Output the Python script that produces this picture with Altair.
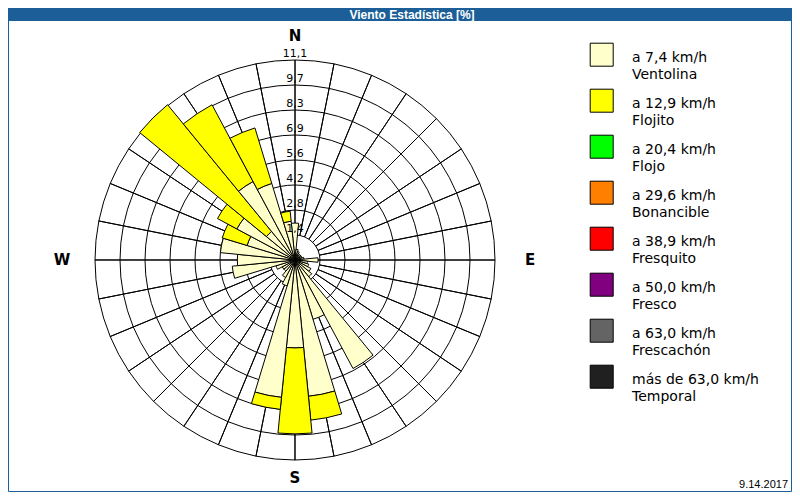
import altair as alt
import pandas as pd

# ---------------- data ----------------
step_deg = 11.25  # 32 directions
# percentage per direction (N, NbE, ... clockwise), two speed classes
ventolina = [2.05, 0.6, 0.5, 0.4, 0.4, 0.4, 0.4, 0.5,
             1.28, 0.7, 0.8, 1.0, 1.2, 6.83, 3.44, 7.6,
             4.88, 7.66, 1.5, 1.1, 0.8, 0.8, 1.1, 3.5,
             3.2, 4.16, 2.78, 3.66, 2.05, 4.94, 4.44, 2.16]
flojito = [0, 0, 0, 0, 0, 0, 0, 0,
           0, 0, 0, 0, 0, 0, 0, 1.33,
           4.77, 0.67, 0, 0, 0, 0, 0, 0,
           0, 0, 1.44, 1.22, 9.1, 4.83, 3.22, 0.56]

ring_max = 11.1
ring_labels = ["1,4", "2,8", "4,2", "5,6", "6,9", "8,3", "9,7", "11,1"]

speed_labels = ["a 7,4 km/h", "a 12,9 km/h", "a 20,4 km/h", "a 29,6 km/h",
                "a 38,9 km/h", "a 50,0 km/h", "a 63,0 km/h", "más de 63,0 km/h"]
class_names = ["Ventolina", "Flojito", "Flojo", "Bonancible",
               "Fresquito", "Fresco", "Frescachón", "Temporal"]
class_colors = ["#ffffcc", "#ffff00", "#00ff00", "#ff8000",
                "#ff0000", "#800080", "#646464", "#202020"]

compass_labels = ["N", "E", "S", "W"]
compass_angles = [0, 90, 180, 270]

title_text = "Viento Estadística [%]"
date_text = "9.14.2017"

# ---------------- layout ----------------
W, H = 784, 484
CX, CY = 287, 252
R = 200
BLUE = "#1c5f98"

theta_scale = alt.Scale(domain=[0, 360], range=[0, 6.283185307179586])
rad_scale = alt.Scale(type="linear", domain=[0, ring_max], range=[0, R])
fill_scale = alt.Scale(domain=class_names, range=class_colors)

n_dir = len(ventolina)
n_ring = len(ring_labels)

rows = []
for i, (v, f) in enumerate(zip(ventolina, flojito)):
    c = i * step_deg
    a0, a1 = c - step_deg / 2, c + step_deg / 2
    if v > 0:
        rows.append(dict(a0=a0, a1=a1, r0=0.0, r1=v, cls=class_names[0]))
    if f > 0:
        rows.append(dict(a0=a0, a1=a1, r0=v, r1=v + f, cls=class_names[1]))
bars_df = pd.DataFrame(rows)

rings_df = pd.DataFrame({
    "r": [ring_max * (k + 1) / n_ring for k in range(n_ring)],
    "label": ring_labels,
})
rings_df["a0"] = 0.0
rings_df["a1"] = 360.0

spokes_df = pd.DataFrame({"a0": [i * step_deg for i in range(n_dir)]})
spokes_df["a1"] = spokes_df["a0"] + 0.01
spokes_df["r0"] = [0.0 if i % 8 == 0 else ring_max / n_ring for i in range(n_dir)]
spokes_df["r1"] = ring_max

center = dict(x=alt.value(CX), y=alt.value(CY))

rings = alt.Chart(rings_df).mark_arc(filled=False, stroke="black", strokeWidth=1).encode(
    theta=alt.Theta("a0:Q", scale=theta_scale, stack=False),
    theta2="a1:Q",
    radius=alt.Radius("r:Q", scale=rad_scale, stack=False),
    **center,
)

spokes = alt.Chart(spokes_df).mark_arc(filled=False, stroke="black", strokeWidth=1).encode(
    theta=alt.Theta("a0:Q", scale=theta_scale, stack=False),
    theta2="a1:Q",
    radius=alt.Radius("r1:Q", scale=rad_scale, stack=False),
    radius2="r0:Q",
    **center,
)

bars = alt.Chart(bars_df).mark_arc(stroke="black", strokeWidth=1).encode(
    theta=alt.Theta("a0:Q", scale=theta_scale, stack=False),
    theta2="a1:Q",
    radius=alt.Radius("r1:Q", scale=rad_scale, stack=False),
    radius2="r0:Q",
    fill=alt.Fill("cls:N", scale=fill_scale, legend=None),
    **center,
)

ring_text = alt.Chart(rings_df).mark_text(
    font="DejaVu Sans", fontSize=11, baseline="alphabetic", align="center",
    dy=-3, color="black"
).encode(
    theta=alt.Theta("a0:Q", scale=theta_scale, stack=False),
    radius=alt.Radius("r:Q", scale=rad_scale, stack=False),
    text="label:N",
    **center,
)

compass_df = pd.DataFrame({"lab": compass_labels, "a": compass_angles})
compass_offsets = {"N": 224, "E": 235, "S": 218, "W": 233}
compass_layers = []
for lab in compass_labels:
    compass_layers.append(
        alt.Chart(compass_df).transform_filter(alt.datum.lab == lab).mark_text(
            font="DejaVu Sans", fontSize=15, fontWeight="bold",
            baseline="middle", align="center", color="black"
        ).encode(
            theta=alt.Theta("a:Q", scale=theta_scale, stack=False),
            radius=alt.value(compass_offsets[lab]),
            text="lab:N",
            **center,
        )
    )

leg_df = pd.DataFrame({"i": list(range(len(class_names))), "speed": speed_labels,
                       "cls": class_names})
y_leg = alt.Y("i:Q", scale=alt.Scale(domain=[0, 7], range=[46.7, 368.7], nice=False, zero=False),
              axis=None)

squares = alt.Chart(leg_df).mark_square(size=529, stroke="black", strokeWidth=1,
                                        opacity=1, filled=True).encode(
    x=alt.value(593.7), y=y_leg,
    fill=alt.Fill("cls:N", scale=fill_scale, legend=None),
)
leg_t1 = alt.Chart(leg_df).mark_text(font="DejaVu Sans", fontSize=14, align="left",
                                     baseline="alphabetic", dy=7, color="black").encode(
    x=alt.value(624), y=y_leg, text="speed:N")
leg_t2 = alt.Chart(leg_df).mark_text(font="DejaVu Sans", fontSize=14, align="left",
                                     baseline="alphabetic", dy=24.6, color="black").encode(
    x=alt.value(624), y=y_leg, text="cls:N")

one = pd.DataFrame({"t": [title_text], "d": [date_text]})
title_bar = alt.Chart(one).mark_rect(color=BLUE).encode(
    x=alt.value(0), x2=alt.value(W), y=alt.value(0), y2=alt.value(13))
title = alt.Chart(one).mark_text(font="Liberation Sans", fontSize=12, fontWeight="bold",
                                 color="white", align="center", baseline="middle").encode(
    x=alt.value(404), y=alt.value(6.5), text="t:N")
border = alt.Chart(one).mark_rect(filled=False, stroke=BLUE, strokeWidth=1).encode(
    x=alt.value(0.5), x2=alt.value(W - 0.5), y=alt.value(0.5), y2=alt.value(H - 0.5))
date = alt.Chart(one).mark_text(font="Liberation Sans", fontSize=11, align="right",
                                baseline="alphabetic", color="black").encode(
    x=alt.value(780), y=alt.value(480), text="d:N")

chart = alt.layer(
    rings, spokes, bars, ring_text, *compass_layers,
    squares, leg_t1, leg_t2, title_bar, title, border, date
).properties(
    width=W, height=H, padding=0,
    autosize=alt.AutoSizeParams(type="none"),
    background="white",
).configure_view(strokeWidth=0)

chart.save("out.html", embed_options={"renderer": "svg", "actions": False})
